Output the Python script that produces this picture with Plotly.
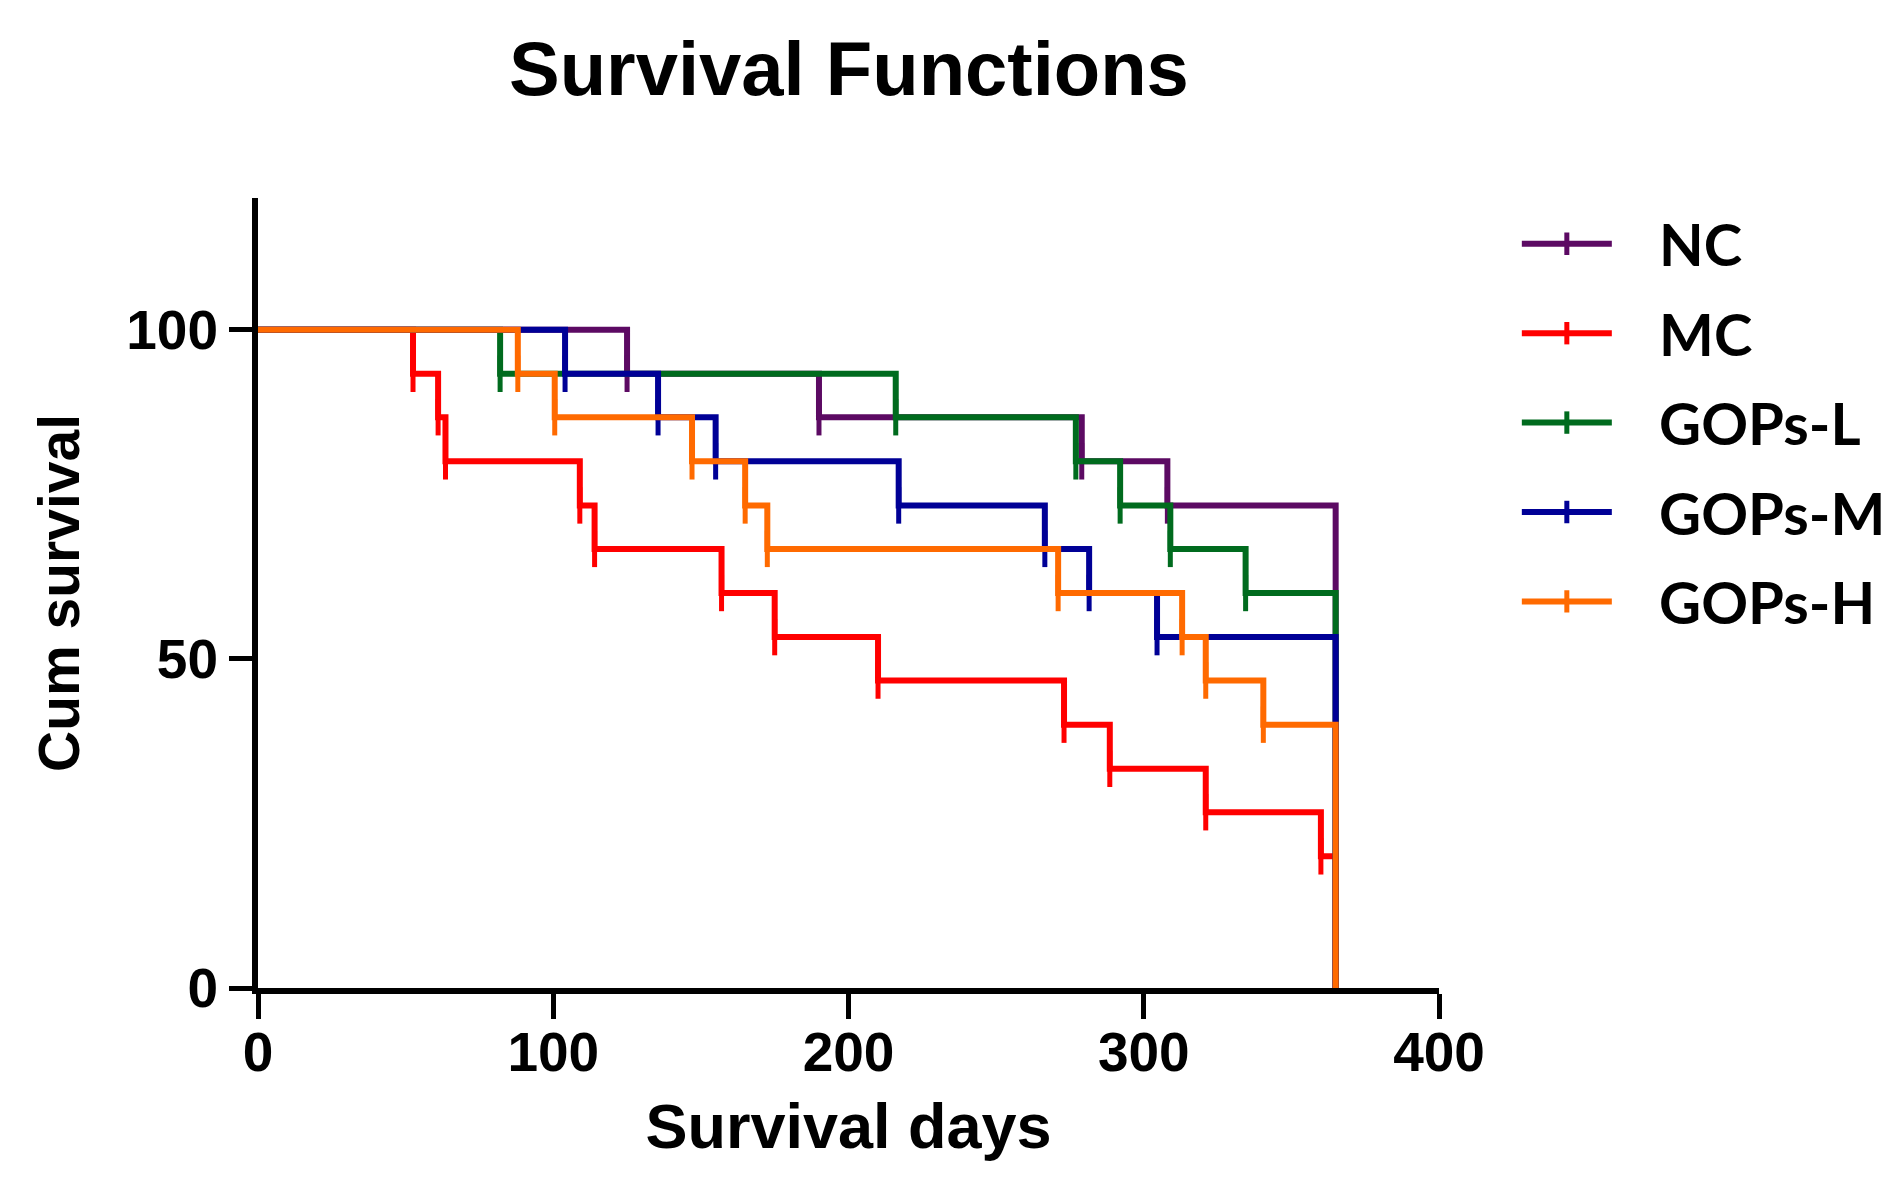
import plotly.graph_objects as go

# Kaplan-Meier steps: event day and cum survival (%) after it
groups = ["NC", "MC", "GOPs-L", "GOPs-M", "GOPs-H"]
colors = ["#5c0a63", "#ff0000", "#006b1e", "#000096", "#ff6a00"]

nc_days = [125, 190, 279, 308, 365]
nc_surv = [93.3, 86.7, 80.0, 73.3, 0]

mc_days = [52.5, 61, 63.5, 109, 114, 157, 175, 210, 273, 288.5, 321, 360, 365]
mc_surv = [93.3, 86.7, 80.0, 73.3, 66.7, 60.0, 53.3, 46.7, 40.0, 33.3, 26.7, 20.0, 0]

low_days = [82, 216, 277, 292, 309, 334.5, 365]
low_surv = [93.3, 86.7, 80.0, 73.3, 66.7, 60.0, 0]

mid_days = [104, 135.5, 155, 217, 266.5, 281.5, 304.5, 365]
mid_surv = [93.3, 86.7, 80.0, 73.3, 66.7, 60.0, 53.3, 0]

high_days = [88, 100.5, 147, 165, 172.5, 271, 313, 321, 340.5, 365]
high_surv = [93.3, 86.7, 80.0, 73.3, 66.7, 60.0, 53.3, 46.7, 40.0, 0]

x_ticks = [0, 100, 200, 300, 400]
y_ticks = [0, 50, 100]

series = [
    (nc_days, nc_surv),
    (mc_days, mc_surv),
    (low_days, low_surv),
    (mid_days, mid_surv),
    (high_days, high_surv),
]

fig = go.Figure()
for name, color, (days, surv) in zip(groups, colors, series):
    # no censor tick on the starting point, one on every step
    sizes = [0] + [26] * len(days)
    fig.add_trace(go.Scatter(
        x=[0] + days,
        y=[100] + surv,
        name="\u00a0\u00a0\u00a0" + name,
        legendgroup=name,
        mode="lines+markers",
        line=dict(color=color, width=6, shape="hv"),
        marker=dict(symbol="line-ns", size=sizes, color=color, opacity=1,
                    line=dict(color=color, width=5)),
    ))

axis_font = dict(family="Liberation Sans", size=55, color="black", weight="bold")
fig.update_layout(
    width=1894, height=1187,
    margin=dict(l=250, r=462, t=190, b=207),
    plot_bgcolor="white", paper_bgcolor="white",
    title=dict(text="Survival Functions", x=0.444, xanchor="center",
               y=0.949, yanchor="middle", yref="container",
               font=dict(family="Liberation Sans", size=76, color="black", weight="bold")),
    legend=dict(x=1.065, y=0.998, xanchor="left", yanchor="top",
                traceorder="grouped", tracegroupgap=11, itemwidth=90,
                font=dict(family="Lato", size=58, color="black", weight="bold")),
    showlegend=True,
)
fig.update_xaxes(
    range=[0, 400], tickvals=x_ticks, showgrid=False, zeroline=False,
    showline=True, linecolor="black", linewidth=6,
    ticks="outside", ticklen=25, tickwidth=5, tickcolor="black",
    tickfont=axis_font, ticklabelstandoff=-14,
    title=dict(text="Survival days", standoff=24,
               font=dict(family="Liberation Sans", size=63, color="black", weight="bold")),
)
fig.update_yaxes(
    range=[0, 120], tickvals=y_ticks, showgrid=False, zeroline=False,
    showline=True, linecolor="black", linewidth=6,
    ticks="outside", ticklen=23, tickwidth=5, tickcolor="black",
    tickfont=axis_font,
    title=dict(text="Cum survival", standoff=30,
               font=dict(family="Liberation Sans", size=57, color="black", weight="bold")),
)

fig.write_html("out.html")
